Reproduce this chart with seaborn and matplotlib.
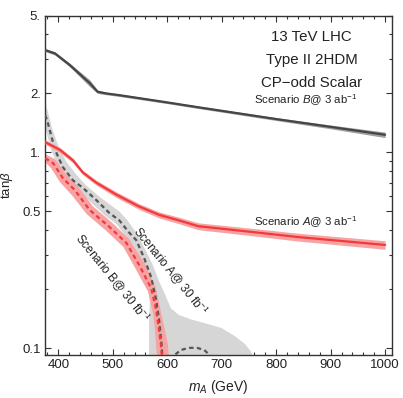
import matplotlib
matplotlib.use("Agg")
import matplotlib.pyplot as plt
import seaborn as sns
import pandas as pd
from matplotlib.ticker import FixedLocator, NullFormatter

# ---------------- data ----------------
# Scenario B @ 3 ab^-1 (gray solid + band)
mB3 = [375.8, 394, 421.3, 445, 457.6, 472.2, 488, 512, 600, 657, 800, 900, 1000]
tbB3 = [3.33, 3.20, 2.79, 2.43, 2.26, 2.04, 2.00, 1.96, 1.80, 1.70, 1.48, 1.35, 1.23]
tbB3_lo = [3.27, 3.14, 2.73, 2.35, 2.17, 2.00, 1.97, 1.93, 1.775, 1.675, 1.455, 1.32, 1.19]
tbB3_hi = [3.39, 3.26, 2.85, 2.51, 2.35, 2.08, 2.03, 1.99, 1.825, 1.725, 1.505, 1.38, 1.27]

# Scenario A @ 3 ab^-1 (red solid + band)
mA3 = [375.8, 403, 427, 445, 470, 506, 548, 585, 621, 657, 750, 839, 920, 1000]
tbA3 = [1.13, 1.03, 0.91, 0.79, 0.70, 0.61, 0.53, 0.48, 0.45, 0.42, 0.394, 0.37, 0.353, 0.337]
tbA3_lo = [1.10, 1.00, 0.885, 0.77, 0.68, 0.59, 0.512, 0.463, 0.433, 0.403, 0.377, 0.353, 0.336, 0.320]
tbA3_hi = [1.16, 1.06, 0.935, 0.81, 0.72, 0.63, 0.548, 0.497, 0.467, 0.437, 0.411, 0.387, 0.370, 0.354]

# Scenario A @ 30 fb^-1 (gray dashed)
mA30 = [375.8, 379.5, 394, 408.5, 427, 445, 470, 494, 512, 530, 543, 557.6, 570.4, 579.5, 585, 590, 591]
tbA30 = [1.55, 1.46, 1.03, 0.84, 0.72, 0.66, 0.57, 0.49, 0.45, 0.39, 0.357, 0.289, 0.231, 0.177, 0.14, 0.102, 0.09]
# second (small) branch of the A @ 30 fb^-1 contour near the bottom
mA30b = [615, 625, 640, 655, 668, 675]
tbA30b = [0.093, 0.098, 0.1005, 0.1005, 0.098, 0.094]
# gray uncertainty region of A @ 30 fb^-1 (outline)
regA30_m = [375.8, 386.7, 401.3, 419.5, 437.6, 461.3, 486.7, 506.7, 525, 537.6, 550.4, 561.3, 568, 566.7, 566.7,
            761, 754, 743, 725, 699.5, 670.4, 644.9, 621.3, 606.7, 594, 585, 575, 562, 550, 540, 527, 512,
            495.8, 474, 450.4, 432.2, 414, 399.5, 388.5, 381.3, 375.8]
regA30_tb = [1.36, 1.03, 0.83, 0.706, 0.635, 0.551, 0.473, 0.431, 0.37, 0.337, 0.292, 0.237, 0.176, 0.13, 0.085,
             0.085, 0.096, 0.105, 0.115, 0.127, 0.134, 0.140, 0.148, 0.160, 0.194, 0.22, 0.26, 0.31, 0.36, 0.40, 0.45, 0.50,
             0.539, 0.599, 0.681, 0.775, 0.903, 1.09, 1.33, 1.60, 1.78]

# Scenario B @ 30 fb^-1 (red dashed)
mB30 = [375.8, 390.4, 408.5, 430.4, 457.6, 494, 525, 548.5, 570.4, 579.5, 585, 588.5, 590.3]
tbB30 = [0.935, 0.882, 0.739, 0.642, 0.508, 0.416, 0.345, 0.266, 0.203, 0.158, 0.124, 0.104, 0.090]
# red uncertainty band of B @ 30 fb^-1 (outline)
regB30_m = [375.8, 386.7, 403.1, 424.9, 452.2, 488.5, 519.5, 543.1, 565, 574, 577.6, 579.5, 581.3,
            603.1, 601.3, 595.8, 588.5, 579.5, 559.5, 530.4, 499.5, 463.1, 435.8, 414, 394, 375.8]
regB30_tb = [0.892, 0.832, 0.705, 0.605, 0.484, 0.397, 0.329, 0.251, 0.194, 0.150, 0.124, 0.104, 0.0903,
             0.0903, 0.104, 0.124, 0.153, 0.203, 0.269, 0.361, 0.436, 0.532, 0.673, 0.775, 0.924, 0.980]

xticks = [400, 500, 600, 700, 800, 900, 1000]
yticks = [0.1, 0.5, 1, 2, 5]
ytick_labels = ["0.1", "0.5", "1.", "2.", "5."]
yminor = [0.2, 0.3, 0.4, 0.6, 0.7, 0.8, 0.9, 3, 4]

# ---------------- style ----------------
sns.set_style("ticks")
plt.rcParams['font.family'] = ['Liberation Sans', 'DejaVu Sans']
plt.rcParams['mathtext.fontset'] = 'custom'
plt.rcParams['mathtext.rm'] = 'Liberation Sans'
plt.rcParams['mathtext.it'] = 'Liberation Sans:italic'
plt.rcParams['mathtext.bf'] = 'Liberation Sans:bold'
plt.rcParams['axes.unicode_minus'] = True

RED = '#f2393b'
RED_BAND = '#f7a3a3'
DGRAY = '#454545'
GBAND = '#a0a0a0'
LGRAY = '#d6d6d6'
DASHGRAY = '#555555'

fig = plt.figure(figsize=(4.03, 3.98), dpi=100)
ax = fig.add_axes([45/403, 1-355/398, (392-45)/403, (355-15.5)/398])
ax.set_yscale('log')

# gray region (A @ 30 fb^-1)
ax.fill(regA30_m, regA30_tb, color=LGRAY, lw=0, zorder=1)
# red band (B @ 30 fb^-1)
ax.fill(regB30_m, regB30_tb, color=RED_BAND, lw=0, zorder=2)

dash = (0, (2.0, 1.5))
sns.lineplot(x=mA30, y=tbA30, ax=ax, color=DASHGRAY, lw=1.6, linestyle=dash, sort=False, zorder=3)
sns.lineplot(x=mA30b, y=tbA30b, ax=ax, color=DASHGRAY, lw=1.6, linestyle=dash, sort=False, zorder=3)
sns.lineplot(x=mB30, y=tbB30, ax=ax, color=RED, lw=1.6, linestyle=dash, sort=False, zorder=4)

# Scenario A @ 3 ab^-1
ax.fill_between(mA3, tbA3_lo, tbA3_hi, color=RED_BAND, lw=0, zorder=5)
sns.lineplot(x=mA3, y=tbA3, ax=ax, color=RED, lw=1.6, sort=False, zorder=6)
# Scenario B @ 3 ab^-1
ax.fill_between(mB3, tbB3_lo, tbB3_hi, color=GBAND, lw=0, zorder=5)
sns.lineplot(x=mB3, y=tbB3, ax=ax, color=DGRAY, lw=1.6, sort=False, zorder=6)

ax.set_xlim(375.6, 1012.7)
ax.set_ylim(0.0924, 5.0)

ax.xaxis.set_major_locator(FixedLocator(xticks))
ax.xaxis.set_minor_locator(FixedLocator(list(range(380, 1001, 20))))
ax.yaxis.set_major_locator(FixedLocator(yticks))
ax.set_yticklabels(ytick_labels)
ax.yaxis.set_minor_locator(FixedLocator(yminor))
ax.yaxis.set_minor_formatter(NullFormatter())

ax.tick_params(which='both', direction='in', top=True, right=True, color='#333333',
               labelsize=9.5, labelcolor='#222222', width=0.8, pad=3)
ax.tick_params(which='major', length=4.5)
ax.tick_params(which='minor', length=2.5)
for s in ax.spines.values():
    s.set_color('#333333')
    s.set_linewidth(1.0)

ax.set_xlabel(r"$m_A$ (GeV)", fontsize=10, color='#222222', labelpad=5)
ax.set_ylabel(r"tan$\beta$", fontsize=9.5, color='#222222', labelpad=5)

# annotations
for txt, yy in [("13 TeV LHC", 0.938), ("Type II 2HDM", 0.870), ("CP\u2212odd Scalar", 0.802)]:
    ax.text(0.768, yy, txt, transform=ax.transAxes, ha='center', va='center',
            fontsize=10.8, color='#222222', zorder=10)
ax.text(0.752, 0.749, r"Scenario $B$@ 3 ab$^{-1}$", transform=ax.transAxes, ha='center', va='center',
        fontsize=8.2, color='#222222', zorder=10)
ax.text(0.752, 0.392, r"Scenario $A$@ 3 ab$^{-1}$", transform=ax.transAxes, ha='center', va='center',
        fontsize=8.2, color='#222222', zorder=10)
ax.text(0.360, 0.245, r"Scenario A@ 30 fb$^{-1}$", transform=ax.transAxes, ha='center', va='center',
        rotation=-51, rotation_mode='anchor', fontsize=8.5, color='#222222', zorder=10)
ax.text(0.195, 0.225, r"Scenario B@ 30 fb$^{-1}$", transform=ax.transAxes, ha='center', va='center',
        rotation=-51, rotation_mode='anchor', fontsize=8.5, color='#222222', zorder=10)

fig.savefig("out.png", dpi=100)
